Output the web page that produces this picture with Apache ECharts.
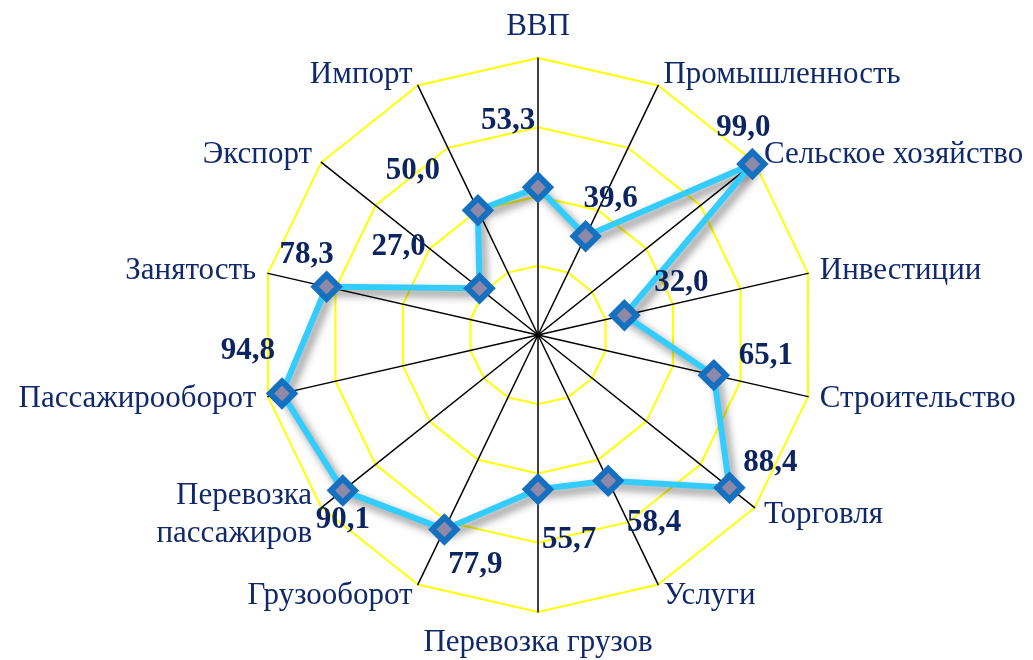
<!DOCTYPE html>
<html>
<head>
<meta charset="utf-8">
<script src="https://cdn.jsdelivr.net/npm/echarts@6/dist/echarts.min.js"></script>
<style>
  html, body { margin: 0; padding: 0; background: #fff; }
  #chart { width: 1033px; height: 660px; }
</style>
</head>
<body>
<div id="chart"></div>
<script>
// показатели, по часовой стрелке от верха
const categories = [
  "ВВП", "Промышленность", "Сельское хозяйство", "Инвестиции", "Строительство",
  "Торговля", "Услуги", "Перевозка грузов", "Грузооборот", "Перевозка\nпассажиров",
  "Пассажирооборот", "Занятость", "Экспорт", "Импорт"
];
const values = [53.3, 39.6, 99.0, 32.0, 65.1, 88.4, 58.4, 55.7, 77.9, 90.1, 94.8, 78.3, 27.0, 50.0];
const maxValue = 100;

// сдвиг подписи значения относительно точки (px)
const labelOffsets = [
  [-30, -66], [25, -37], [-9, -36], [57, -32], [52, -19],
  [41, -25], [46, 42], [31, 51], [31, 36], [0, 29],
  [-34, -42], [-20, -32], [-81, -41], [-65, -39]
];

const serif = '"Liberation Serif", "Times New Roman", serif';
const textColor = "#10296b";

// echarts рисует оси против часовой стрелки — переставляем
const order = [0];
for (let i = categories.length - 1; i > 0; i--) order.push(i);
const indicator = order.map(i => ({ name: categories[i], max: maxValue, min: 0 }));
const ordered = order.map(i => values[i]);

const fmt = v => v.toFixed(1).replace(".", ",");

let myChart = echarts.init(document.getElementById("chart"));

const series = [{
  type: "radar",
  z: 2,
  symbol: "diamond",
  symbolSize: 24,
  itemStyle: { color: "#8e89a8", borderColor: "#1670c0", borderWidth: 6 },
  lineStyle: {
    color: "#33ccff", width: 6,
    shadowColor: "rgba(0,0,0,0.5)", shadowBlur: 8, shadowOffsetX: 4, shadowOffsetY: 5
  },
  data: [{ value: ordered }]
}];

// отдельная серия на каждую подпись, чтобы двигать их по отдельности
values.forEach((v, i) => {
  series.push({
    type: "radar",
    z: 3,
    silent: true,
    symbol: "circle",
    symbolSize: 1,
    itemStyle: { color: "rgba(0,0,0,0)" },
    lineStyle: { width: 0, opacity: 0 },
    label: {
      show: true,
      position: "inside",
      offset: labelOffsets[i],
      fontFamily: serif,
      fontWeight: "bold",
      fontSize: 31,
      color: "#0c2560",
      formatter: p => (p.value === v ? fmt(v) : "")
    },
    data: [{ value: ordered }]
  });
});

myChart.setOption({
  animation: false,
  radar: {
    center: [538, 335],
    radius: 277,
    startAngle: 90,
    shape: "polygon",
    splitNumber: 4,
    nameGap: 12,
    axisName: { color: textColor, fontFamily: serif, fontSize: 31, lineHeight: 38 },
    splitLine: { lineStyle: { color: "#ffff00", width: 2 } },
    splitArea: { show: false },
    axisLine: { lineStyle: { color: "#000", width: 1.5 } },
    indicator: indicator
  },
  series: series
});
</script>
</body>
</html>
